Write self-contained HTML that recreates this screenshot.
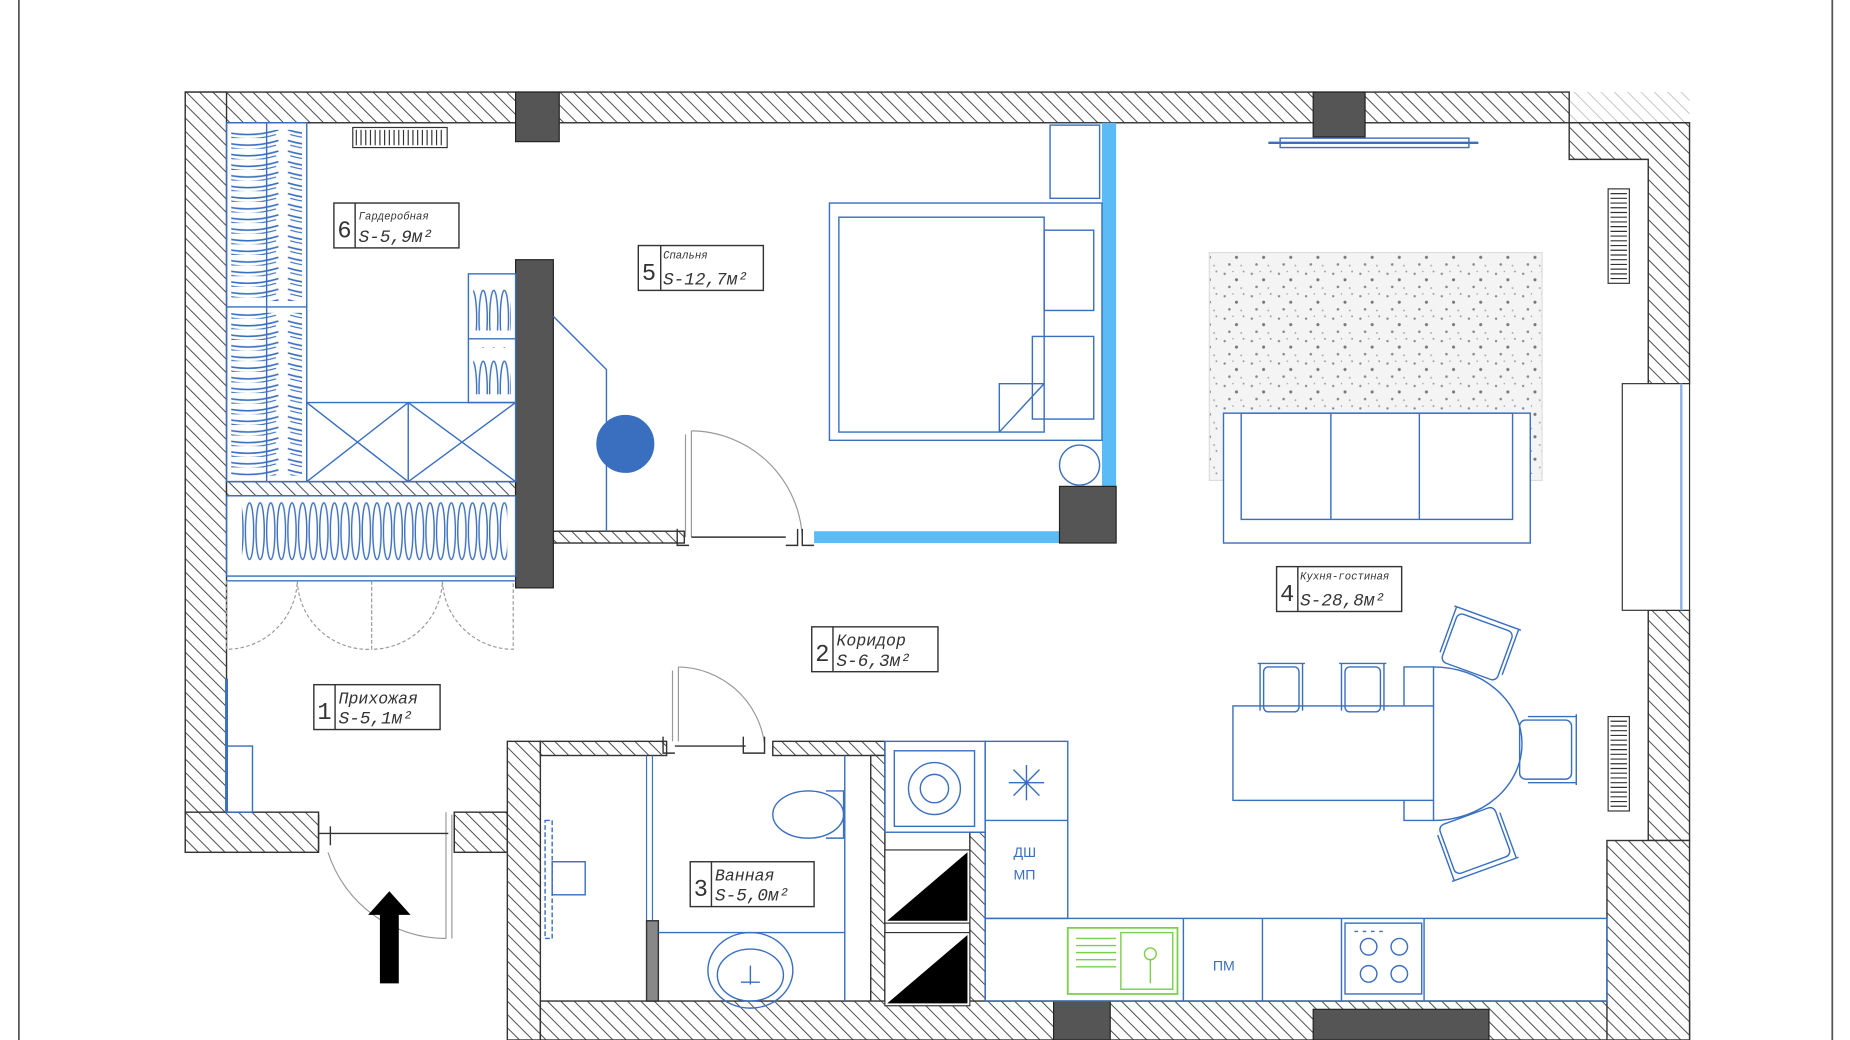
<!DOCTYPE html>
<html><head><meta charset="utf-8"><style>
html,body{margin:0;padding:0;background:#fff;}
svg{display:block;}
text{font-family:"Liberation Mono",monospace;font-style:italic;fill:#333;}
</style></head><body>
<svg width="1850" height="1040" viewBox="0 0 1568 881" preserveAspectRatio="none" xmlns="http://www.w3.org/2000/svg">
<defs>
<pattern id="h" width="8" height="8" patternUnits="userSpaceOnUse" patternTransform="rotate(-45)">
<rect width="8" height="8" fill="#fff"/><line x1="0" y1="0" x2="0" y2="8" stroke="#444" stroke-width="1.6"/>
</pattern>
<pattern id="hl" width="8" height="8" patternUnits="userSpaceOnUse" patternTransform="rotate(-45)">
<rect width="8" height="8" fill="#fff"/><line x1="0" y1="0" x2="0" y2="8" stroke="#bbb" stroke-width="1.4"/>
</pattern>
<pattern id="dots" width="23" height="19" patternUnits="userSpaceOnUse">
<rect width="23" height="19" fill="#f4f4f4"/>
<circle cx="3" cy="4" r="1" fill="#888"/><circle cx="13" cy="9" r="1.3" fill="#777"/><circle cx="19" cy="2" r=".8" fill="#999"/><circle cx="7" cy="15" r="1.1" fill="#888"/><circle cx="17" cy="16" r=".8" fill="#aaa"/><circle cx="10" cy="2" r=".6" fill="#999"/>
</pattern>
<pattern id="hangV" width="9" height="60" patternUnits="userSpaceOnUse">
<ellipse cx="4.5" cy="30" rx="3.5" ry="24" fill="none" stroke="#3a6fc0" stroke-width="1.2"/>
</pattern>
<pattern id="hangH" width="60" height="9" patternUnits="userSpaceOnUse">
<path d="M4 2 Q30 10 56 2" fill="none" stroke="#3a6fc0" stroke-width="1.3"/><path d="M6 6 Q30 13 54 6" fill="none" stroke="#3a6fc0" stroke-width="1"/>
</pattern>
</defs>
<rect width="1568" height="881" fill="#fff"/>
<line x1="16" y1="0" x2="16" y2="881" stroke="#555" stroke-width="1.5"/>
<line x1="1553" y1="0" x2="1553" y2="881" stroke="#555" stroke-width="1.5"/>

<rect x="1330" y="78" width="102" height="26" fill="url(#hl)"/>
<g stroke="#333" stroke-width="1.2" fill="url(#h)">
<rect x="157" y="78" width="1173" height="26"/>
<rect x="157" y="78" width="35" height="644"/>
<rect x="157" y="688" width="113" height="34"/>
<rect x="385" y="688" width="45" height="34"/>
<rect x="430" y="628" width="28" height="253"/>
<rect x="458" y="628" width="107" height="12"/>
<rect x="655" y="628" width="95" height="12"/>
<rect x="738" y="640" width="12" height="215"/>
<rect x="822" y="705" width="13" height="150"/>
<rect x="458" y="848" width="974" height="33"/>
<path d="M1330 104H1432V325H1397V135H1330Z"/>
<rect x="1397" y="517" width="35" height="195"/>
<rect x="1362" y="712" width="70" height="169"/>
<rect x="192" y="408" width="245" height="12"/>
<rect x="469" y="450" width="111" height="10"/>
</g>
<rect x="1375" y="325" width="57" height="192" fill="#fff" stroke="#333"/>
<line x1="1425" y1="325" x2="1425" y2="517" stroke="#8ab0e8" stroke-width="2"/>
<rect x="934" y="104" width="12" height="308" fill="#5bbcf5"/>
<rect x="690" y="450" width="208" height="10" fill="#5bbcf5"/>
<g fill="#555" stroke="#222">
<rect x="437" y="78" width="37" height="42"/>
<rect x="1113" y="78" width="44" height="38"/>
<rect x="437" y="220" width="32" height="278"/>
<rect x="898" y="412" width="48" height="48"/>
<rect x="893" y="848" width="48" height="33"/>
<rect x="1113" y="855" width="149" height="26"/>
</g>
<g stroke="#333" stroke-width="1"><rect x="299" y="108" width="80" height="17" fill="none"/>
<path d="M302 110v13M306 110v13M310 110v13M314 110v13M318 110v13M322 110v13M326 110v13M330 110v13M334 110v13M338 110v13M342 110v13M346 110v13M350 110v13M354 110v13M358 110v13M362 110v13M366 110v13M370 110v13M374 110v13"/>
<rect x="1363" y="160" width="18" height="80" fill="none"/>
<path d="M1365 164h14M1365 168h14M1365 172h14M1365 176h14M1365 180h14M1365 184h14M1365 188h14M1365 192h14M1365 196h14M1365 200h14M1365 204h14M1365 208h14M1365 212h14M1365 216h14M1365 220h14M1365 224h14M1365 228h14M1365 232h14M1365 236h14"/>
<rect x="1363" y="607" width="18" height="80" fill="none"/>
<path d="M1365 611h14M1365 615h14M1365 619h14M1365 623h14M1365 627h14M1365 631h14M1365 635h14M1365 639h14M1365 643h14M1365 647h14M1365 651h14M1365 655h14M1365 659h14M1365 663h14M1365 667h14M1365 671h14M1365 675h14M1365 679h14M1365 683h14"/>
</g>
<g fill="none" stroke="#3a6fc0" stroke-width="1.2">
<rect x="192" y="104" width="68" height="304"/>
<line x1="192" y1="260" x2="260" y2="260"/>
<line x1="226" y1="104" x2="226" y2="408"/>
<rect x="196" y="110" width="60" height="145" fill="url(#hangH)" stroke="none"/>
<rect x="196" y="265" width="60" height="138" fill="url(#hangH)" stroke="none"/>
<rect x="260" y="341" width="177" height="67"/>
<line x1="346" y1="341" x2="346" y2="408"/>
<path d="M260 341L346 408M346 341L260 408M346 341L437 408M437 341L346 408"/>
<rect x="397" y="232" width="40" height="109"/>
<line x1="397" y1="287" x2="437" y2="287"/>
<rect x="401" y="240" width="32" height="40" fill="url(#hangV)" stroke="none"/>
<rect x="401" y="294" width="32" height="40" fill="url(#hangV)" stroke="none"/>
<rect x="192" y="420" width="245" height="68"/>
<rect x="205" y="424" width="225" height="60" fill="url(#hangV)" stroke="none"/>
<line x1="192" y1="492" x2="437" y2="492"/>
<line x1="192" y1="575" x2="192" y2="688" stroke-width="2.5"/>
<rect x="192" y="632" width="22" height="56"/>
<path d="M469 268L514 313V450"/>
<circle cx="530" cy="376" r="24" fill="#3a6fc0"/>
<rect x="890" y="106" width="42" height="62"/>
<rect x="703" y="172" width="231" height="201"/>
<rect x="711" y="184" width="174" height="182"/>
<path d="M847 366V325H885"/><path d="M847 366L885 325"/>
<rect x="885" y="195" width="42" height="68"/>
<rect x="875" y="285" width="52" height="70"/>
<circle cx="915" cy="394" r="17"/>
<line x1="1075" y1="121" x2="1253" y2="121" stroke-width="2"/>
<rect x="1085" y="117" width="160" height="8"/>
</g>
<rect x="1025" y="214" width="282" height="193" fill="url(#dots)" stroke="#ddd"/>
<g fill="none" stroke="#3a6fc0" stroke-width="1.2">
<rect x="1037" y="350" width="260" height="110" fill="#fff"/>
<rect x="1052" y="350" width="230" height="90"/>
<line x1="1128" y1="350" x2="1128" y2="440"/><line x1="1203" y1="350" x2="1203" y2="440"/>
<rect x="1045" y="598" width="170" height="80"/>
<path d="M1215 598V565A75 65 0 0 1 1215 695V678"/>
<path d="M1190 598V565H1215M1190 678V695H1215"/>
<g transform="translate(1086,580)"><path d="M-20 -18H20M-18 -18V22M18 -18V22"/><rect x="-15" y="-15" width="30" height="38" rx="4"/></g>
<g transform="translate(1155,580)"><path d="M-20 -18H20M-18 -18V22M18 -18V22"/><rect x="-15" y="-15" width="30" height="38" rx="4"/></g>
<g transform="translate(1252,548) rotate(20)"><rect x="-25" y="-22" width="50" height="44" rx="5"/><path d="M-30 -26H30M-28 -26V15M28 -26V15"/></g>
<g transform="translate(1310,635) rotate(90)"><rect x="-25" y="-22" width="50" height="44" rx="5"/><path d="M-30 -26H30M-28 -26V15M28 -26V15"/></g>
<g transform="translate(1250,712) rotate(160)"><rect x="-25" y="-22" width="50" height="44" rx="5"/><path d="M-30 -26H30M-28 -26V15M28 -26V15"/></g>
<rect x="750" y="628" width="85" height="77"/>
<rect x="758" y="636" width="68" height="64"/>
<circle cx="792" cy="668" r="22"/><circle cx="792" cy="668" r="12"/>
<rect x="835" y="628" width="70" height="150"/>
<line x1="835" y1="695" x2="905" y2="695"/>
<path d="M870 648V678M855 663H885M859 652L881 674M881 652L859 674"/>
<rect x="835" y="778" width="527" height="70"/>
<line x1="1003" y1="778" x2="1003" y2="848"/><line x1="1070" y1="778" x2="1070" y2="848"/>
<line x1="1137" y1="778" x2="1137" y2="848"/><line x1="1207" y1="778" x2="1207" y2="848"/>
<rect x="1140" y="782" width="65" height="60"/>
<circle cx="1160" cy="802" r="7"/><circle cx="1186" cy="802" r="7"/><circle cx="1160" cy="825" r="7"/><circle cx="1186" cy="825" r="7"/>
<path d="M1148 789h3M1155 789h3M1162 789h3M1169 789h3"/>
<line x1="548" y1="640" x2="548" y2="780" stroke-width="1"/>
<line x1="553" y1="640" x2="553" y2="780" stroke-width="1"/>
<rect x="548" y="780" width="10" height="68" fill="#888" stroke="#333"/>
<line x1="558" y1="790" x2="716" y2="790"/>
<line x1="716" y1="640" x2="716" y2="848"/>
<ellipse cx="685" cy="690" rx="30" ry="20"/><path d="M700 670h15v40h-15"/>
<ellipse cx="636" cy="822" rx="36" ry="32"/><ellipse cx="636" cy="826" rx="28" ry="22"/>
<path d="M636 818v16M628 832h16"/>
<rect x="462" y="695" width="6" height="100" stroke-dasharray="4 2"/>
<rect x="468" y="730" width="28" height="28"/>
</g>
<rect x="905" y="786" width="93" height="56" fill="none" stroke="#7ccf4a" stroke-width="1.5"/>
<g stroke="#7ccf4a" fill="none" stroke-width="1.2"><rect x="950" y="790" width="44" height="48"/><path d="M912 795h34M912 801h34M912 807h34M912 813h34M912 819h34"/><circle cx="975" cy="808" r="5"/><path d="M975 813v20"/></g>
<rect x="750" y="720" width="72" height="62" fill="#fff" stroke="#333"/>
<path d="M752 780L820 722V780Z" fill="#000"/>
<rect x="750" y="790" width="72" height="62" fill="#fff" stroke="#333"/>
<path d="M752 850L820 792V850Z" fill="#000"/>
<g fill="none" stroke="#999" stroke-width="1">
<path d="M586 365A95 95 0 0 1 680 455"/><line x1="586" y1="365" x2="586" y2="455"/><line x1="581" y1="368" x2="581" y2="455"/>
<path d="M575 565A75 75 0 0 1 648 630"/><line x1="575" y1="565" x2="575" y2="628"/><line x1="570" y1="568" x2="570" y2="628"/>
<path d="M278 722A105 105 0 0 0 378 795"/><line x1="378" y1="688" x2="378" y2="795"/><line x1="383" y1="690" x2="383" y2="795"/>
<path d="M192 492V550A60 60 0 0 0 252 492M252 492A60 60 0 0 0 315 550V492M315 492V550A60 60 0 0 0 375 492M375 492A60 60 0 0 0 435 550V492" stroke-dasharray="3 2"/>
</g>
<g stroke="#333" stroke-width="1.2" fill="none">
<path d="M574 448v14h10M676 448v14h-10M680 448v14h10M586 455h80"/>
<path d="M562 624v14h10M648 624v14h-10M630 624v14h8M572 632h60"/>
<path d="M270 690v30M280 700v16M270 706h110M385 690v30"/>
</g>
<path d="M322 833V775H312L330 755L348 775H338V833Z" fill="#000"/>
<g fill="#fff" stroke="#333" stroke-width="1.2">
<rect x="283" y="172" width="106" height="38"/><line x1="301" y1="172" x2="301" y2="210"/>
<rect x="541" y="208" width="106" height="38"/><line x1="560" y1="208" x2="560" y2="246"/>
<rect x="1082" y="480" width="106" height="38"/><line x1="1100" y1="480" x2="1100" y2="518"/>
<rect x="688" y="531" width="107" height="38"/><line x1="706" y1="531" x2="706" y2="569"/>
<rect x="266" y="580" width="107" height="38"/><line x1="284" y1="580" x2="284" y2="618"/>
<rect x="585" y="730" width="105" height="38"/><line x1="603" y1="730" x2="603" y2="768"/>
</g>
<g font-size="20"><text x="286" y="201" style="font-style:normal">6</text><text x="544" y="237" style="font-style:normal">5</text><text x="1085" y="509" style="font-style:normal">4</text><text x="691" y="560" style="font-style:normal">2</text><text x="269" y="609" style="font-style:normal">1</text><text x="588" y="759" style="font-style:normal">3</text></g>
<g font-size="9"><text x="304" y="186">Гардеробная</text><text x="562" y="219">Спальня</text><text x="1102" y="491">Кухня-гостиная</text></g>
<g font-size="14"><text x="709" y="547">Коридор</text><text x="287" y="596">Прихожая</text><text x="606" y="746">Ванная</text></g>
<g font-size="15"><text x="304" y="205">S-5,9м²</text><text x="562" y="241">S-12,7м²</text><text x="1102" y="513">S-28,8м²</text><text x="709" y="564">S-6,3м²</text><text x="287" y="613">S-5,1м²</text><text x="606" y="763">S-5,0м²</text></g>
<g font-size="12"><text x="859" y="726" style="font-style:normal;font-family:'Liberation Sans';fill:#3a6fc0">ДШ</text><text x="859" y="745" style="font-style:normal;font-family:'Liberation Sans';fill:#3a6fc0">МП</text><text x="1028" y="822" style="font-style:normal;font-family:'Liberation Sans';fill:#3a6fc0">ПМ</text></g>
</svg>
</body></html>
